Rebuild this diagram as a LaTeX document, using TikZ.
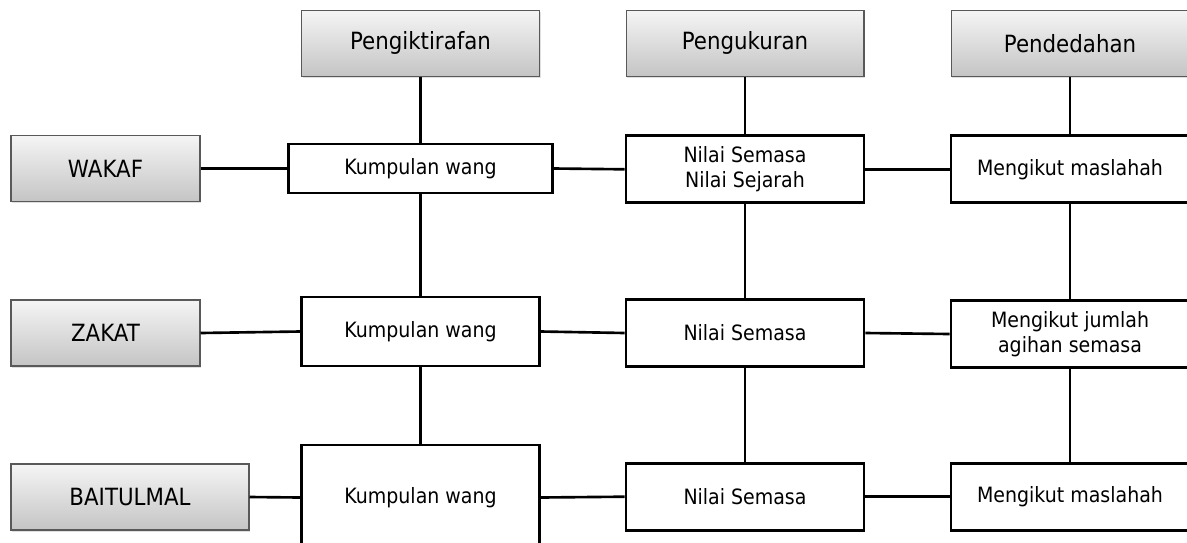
\documentclass[tikz,border=0pt]{standalone}
\usepackage{fontspec}
\setmainfont{DejaVu Sans}[FakeStretch=0.9]
\usetikzlibrary{shadows}
\begin{document}
\begin{tikzpicture}[x=0.02cm,y=-0.02cm,
    head/.style={draw=black!65,line width=0.6pt,top color=gray!8,bottom color=gray!46,
      drop shadow={shadow xshift=0.7pt,shadow yshift=-0.9pt,opacity=0.25},
      inner sep=0pt,minimum width=4.76cm,minimum height=1.31cm,font=\fontsize{13.5}{16}\selectfont},
    cell/.style={draw=black,line width=1.5pt,fill=white,inner sep=0pt,minimum width=4.76cm,
      minimum height=1.34cm,align=center,font=\fontsize{12}{14.3}\selectfont},
    link/.style={line width=1.5pt}]
    \clip (0,0) rectangle (1187,542);
    \fill [white] (0,0) rectangle (1187,542);
    \node [head] (hiktiraf) at (420.5,43.3) {Pengiktirafan};
    \node [head] (hukur) at (745,43.3) {Pengukuran};
    \node [head] (hdedah) at (1070,43.3) {Pendedahan};
    \node [head,minimum width=3.78cm,minimum height=1.32cm] (wakaf) at (105.5,168.5) {WAKAF};
    \node [head,minimum width=3.78cm,minimum height=1.32cm] (zakat) at (105.5,333) {ZAKAT};
    \node [head,minimum height=1.32cm] (baitulmal) at (130,497) {BAITULMAL};
    \node [cell,minimum width=5.28cm,minimum height=0.98cm] (wakafk) at (420.5,168.5) {Kumpulan wang};
    \node [cell,minimum height=1.38cm] (zakatk) at (420.5,331.5) {Kumpulan wang};
    \node [cell,minimum height=2.1cm] (baitk) at (420.5,497.5) {Kumpulan wang};
    \node [cell] (wakafn) at (745,169.3) {Nilai Semasa\\Nilai Sejarah};
    \node [cell] (zakatn) at (745,333) {Nilai Semasa};
    \node [cell] (baitn) at (745,496.7) {Nilai Semasa};
    \node [cell] (wakafm) at (1070,169.3) {Mengikut maslahah};
    \node [cell] (zakatm) at (1070,334) {Mengikut jumlah\\agihan semasa};
    \node [cell] (baitm) at (1070,496.7) {Mengikut maslahah};
    \draw [link] (hiktiraf.south) -- (wakafk.north);
    \draw [link] (wakafk.south) -- (zakatk.north);
    \draw [link] (zakatk.south) -- (baitk.north);
    \draw [link] (hukur.south) -- (wakafn.north);
    \draw [link] (wakafn.south) -- (zakatn.north);
    \draw [link] (zakatn.south) -- (baitn.north);
    \draw [link] (hdedah.south) -- (wakafm.north);
    \draw [link] (wakafm.south) -- (zakatm.north);
    \draw [link] (zakatm.south) -- (baitm.north);
    \draw [link] (wakaf.east) -- (wakafk.west);
    \draw [link] (wakafk.east) -- (wakafn.west);
    \draw [link] (wakafn.east) -- (wakafm.west);
    \draw [link] (zakat.east) -- (zakatk.west);
    \draw [link] (zakatk.east) -- (zakatn.west);
    \draw [link] (zakatn.east) -- (zakatm.west);
    \draw [link] (baitulmal.east) -- (baitk.west);
    \draw [link] (baitk.east) -- (baitn.west);
    \draw [link] (baitn.east) -- (baitm.west);
\end{tikzpicture}
\end{document}
